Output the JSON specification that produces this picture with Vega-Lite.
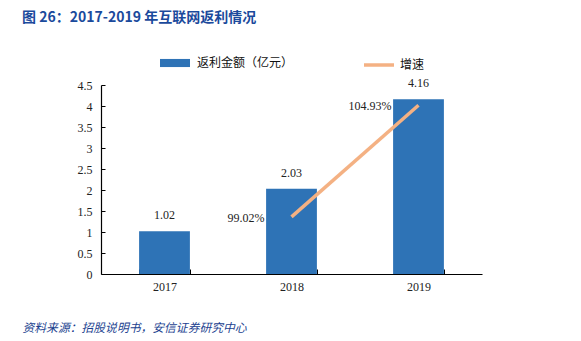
{
  "$schema": "https://vega.github.io/schema/vega-lite/v6.json",
  "width": 381,
  "height": 189,
  "autosize": {"type": "none"},
  "padding": {"left": 101, "top": 85, "right": 99, "bottom": 67},
  "background": "white",
  "title": {
    "text": "图 26：2017-2019 年互联网返利情况",
    "anchor": "start",
    "frame": "group",
    "dx": -79,
    "offset": 23,
    "font": "Noto Sans CJK SC",
    "fontSize": 14,
    "fontWeight": "bold",
    "color": "#1B4A9C"
  },
  "data": {
    "values": [
      {"year": "2017", "amount": 1.02, "growth": null, "s1": "返利金额（亿元）", "s2": "增速"},
      {"year": "2018", "amount": 2.03, "growth": 0.9902, "s1": "返利金额（亿元）", "s2": "增速"},
      {"year": "2019", "amount": 4.16, "growth": 1.0493, "s1": "返利金额（亿元）", "s2": "增速"}
    ]
  },
  "encoding": {
    "x": {
      "field": "year",
      "type": "nominal",
      "scale": {"paddingInner": 0.6, "paddingOuter": 0.3},
      "axis": {
        "title": "资料来源：招股说明书，安信证券研究中心",
        "titleFont": "Noto Sans CJK SC",
        "titleFontStyle": "italic",
        "titleFontWeight": "normal",
        "titleFontSize": 11.8,
        "titleColor": "#1B3F8F",
        "titleAnchor": "start",
        "titleAlign": "left",
        "titleX": -79,
        "titleY": 53,
        "titleBaseline": "middle",
        "labelAngle": 0,
        "labelFont": "Liberation Serif",
        "labelFontSize": 12,
        "labelColor": "#222",
        "labelPadding": 12,
        "tickBand": "extent",
        "tickSize": -5,
        "tickColor": "#000",
        "domainColor": "#000",
        "domainWidth": 1.2
      }
    }
  },
  "layer": [
    {
      "mark": {"type": "bar", "color": "#2E73B6"},
      "encoding": {
        "y": {
          "field": "amount",
          "type": "quantitative",
          "scale": {"domain": [0, 4.5]},
          "axis": {
            "title": null,
            "values": [0, 0.5, 1, 1.5, 2, 2.5, 3, 3.5, 4, 4.5],
            "format": "~g",
            "grid": false,
            "labelFont": "Liberation Serif",
            "labelFontSize": 12,
            "labelColor": "#222",
            "tickSize": -4,
            "tickColor": "#000",
            "labelPadding": 13,
            "domainColor": "#000",
            "domainWidth": 1.2
          }
        },
        "fill": {
          "field": "s1",
          "type": "nominal",
          "scale": {"range": ["#2E73B6"]},
          "legend": {
            "title": null,
            "orient": "none",
            "legendX": 59,
            "legendY": -37,
            "padding": 0,
            "symbolType": "M-1,-0.27H1V0.27H-1Z",
            "symbolSize": 900,
            "symbolStrokeWidth": 0,
            "labelFont": "Noto Sans CJK SC",
            "labelFontSize": 12,
            "labelColor": "#111",
            "labelOffset": 7
          }
        }
      }
    },
    {
      "mark": {"type": "text", "baseline": "alphabetic", "dy": -12, "font": "Liberation Serif", "fontSize": 12, "color": "#222"},
      "encoding": {
        "y": {"field": "amount", "type": "quantitative", "scale": {"domain": [0, 4.5]}, "axis": null},
        "text": {"field": "amount", "type": "quantitative", "format": ".2f"}
      }
    },
    {
      "transform": [{"filter": "datum.growth != null"}],
      "layer": [
        {
          "mark": {"type": "line", "strokeWidth": 3.5, "color": "#F4B183"},
          "encoding": {
            "y": {
              "field": "growth",
              "type": "quantitative",
              "scale": {"domain": [0.96, 1.06]},
              "axis": {
                "orient": "right",
                "title": null,
                "values": [0.96, 0.97, 0.98, 0.99, 1.0, 1.01, 1.02, 1.03, 1.04, 1.05, 1.06],
                "format": ".0%",
                "grid": false,
                "labelFont": "Liberation Serif",
                "labelFontSize": 12,
                "labelColor": "#222",
                "tickSize": -4,
                "tickColor": "#000",
                "labelPadding": 15,
                "domainColor": "#000",
                "domainWidth": 1.2
              }
            },
            "stroke": {
              "field": "s2",
              "type": "nominal",
              "scale": {"range": ["#F4B183"]},
              "legend": {
                "title": null,
                "orient": "none",
                "legendX": 261,
                "legendY": -37,
                "padding": 0,
                "symbolType": "M-1,0H1",
                "symbolSize": 900,
                "symbolStrokeWidth": 3.5,
                "labelFont": "Noto Sans CJK SC",
                "labelFontSize": 12,
                "labelColor": "#111",
                "labelOffset": 4
              }
            }
          }
        },
        {
          "mark": {"type": "text", "align": "right", "baseline": "middle", "dx": -27, "dy": 1, "font": "Liberation Serif", "fontSize": 12, "color": "#222"},
          "encoding": {
            "y": {"field": "growth", "type": "quantitative", "scale": {"domain": [0.96, 1.06]}, "axis": null},
            "text": {"field": "growth", "type": "quantitative", "format": ".2%"}
          }
        }
      ]
    }
  ],
  "resolve": {"scale": {"y": "independent"}},
  "config": {"view": {"stroke": null}}
}
